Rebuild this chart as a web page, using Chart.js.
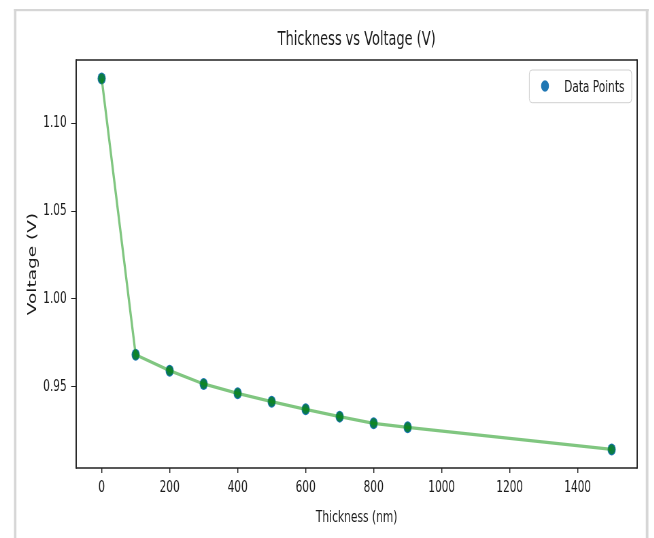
<!DOCTYPE html>
<html><head><meta charset="utf-8">
<script src="https://cdn.jsdelivr.net/npm/chart.js@4.4.1/dist/chart.umd.min.js"></script>
<style>
html,body{margin:0;padding:0;background:#fff;overflow:hidden;}
#wrap{width:654px;height:538px;overflow:hidden;position:relative;background:#fff;}
#c{position:absolute;left:0;top:0;transform:scaleX(0.68);transform-origin:0 0;}
</style></head><body>
<div id="wrap"><canvas id="c" width="962" height="538"></canvas></div>
<script>
// ---- data ----
const thickness = [0, 100, 200, 300, 400, 500, 600, 700, 800, 900, 1500];
const voltage = [1.1255, 0.9681, 0.9591, 0.9515, 0.9462, 0.9414, 0.9371, 0.9329, 0.9291, 0.9268, 0.9142];
const xTicks = [0, 200, 400, 600, 800, 1000, 1200, 1400];
const yTicks = [0.95, 1.00, 1.05, 1.10];
const titleText = 'Thickness vs Voltage (V)';
const xLabel = 'Thickness (nm)';
const yLabel = 'Voltage (V)';
const seriesLabel = 'Data Points';

// ---- layout (canvas is drawn wide and squeezed horizontally like the reference) ----
const SX = 0.68;
const W = 962, H = 538;
const FONT = "'DejaVu Sans', sans-serif";
const TXT = '#1a1a1a';

const pts = thickness.map((x, i) => ({x: x, y: voltage[i]}));
const xmin = Math.min(...thickness), xmax = Math.max(...thickness);
const ymin = Math.min(...voltage), ymax = Math.max(...voltage);
const xm = (xmax - xmin) * 0.05, ym = (ymax - ymin) * 0.05;

const decor = {
  id: 'decor',
  beforeDraw(chart) {
    const ctx = chart.ctx;
    ctx.save();
    ctx.fillStyle = '#fff';
    ctx.fillRect(0, 0, W, H);
    ctx.fillStyle = '#d6d6d6';
    ctx.fillRect(14 / SX, 9, 954 - 14 / SX, 2.2);
    ctx.fillRect(14 / SX, 9, 2.4 / SX, H);
    ctx.fillRect(645.8 / SX, 9, 2.6 / SX, H);
    ctx.restore();
  },
  afterDraw(chart) {
    const ctx = chart.ctx;
    const a = chart.chartArea;
    ctx.save();
    // axes box
    ctx.strokeStyle = '#222';
    ctx.lineWidth = 1.3;
    ctx.beginPath();
    ctx.moveTo(a.left, a.top); ctx.lineTo(a.right, a.top);
    ctx.moveTo(a.left, a.bottom); ctx.lineTo(a.right, a.bottom);
    ctx.stroke();
    ctx.lineWidth = 1.3 / SX;
    ctx.beginPath();
    ctx.moveTo(a.left, a.top - 0.65); ctx.lineTo(a.left, a.bottom + 0.65);
    ctx.moveTo(a.right, a.top - 0.65); ctx.lineTo(a.right, a.bottom + 0.65);
    ctx.stroke();
    // title
    ctx.fillStyle = TXT;
    ctx.font = '19px ' + FONT;
    ctx.textAlign = 'center';
    ctx.textBaseline = 'alphabetic';
    ctx.fillText(titleText, (a.left + a.right) / 2, 45);
    // legend
    const lx0 = 529.3 / SX, lx1 = 631.7 / SX, ly0 = 70, ly1 = 102.7;
    ctx.fillStyle = 'rgba(255,255,255,0.8)';
    ctx.strokeStyle = '#d0d0d0';
    ctx.lineWidth = 1;
    ctx.beginPath();
    if (ctx.roundRect) ctx.roundRect(lx0, ly0, lx1 - lx0, ly1 - ly0, 4); else ctx.rect(lx0, ly0, lx1 - lx0, ly1 - ly0);
    ctx.fill(); ctx.stroke();
    ctx.fillStyle = '#1f77b4';
    ctx.beginPath();
    ctx.arc(545 / SX, 86, 5.8, 0, Math.PI * 2);
    ctx.fill();
    ctx.fillStyle = TXT;
    ctx.font = '15.5px ' + FONT;
    ctx.textAlign = 'left';
    ctx.fillText(chart.data.datasets[0].label, 564.3 / SX, 91.5);
    ctx.restore();
  }
};

new Chart(document.getElementById('c'), {
  type: 'scatter',
  data: {
    datasets: [
      {
        label: seriesLabel,
        data: pts,
        showLine: false,
        pointRadius: 6,
        pointHoverRadius: 6,
        pointBackgroundColor: '#1f77b4',
        pointBorderWidth: 0,
        order: 2
      },
      {
        label: '_line',
        data: pts,
        showLine: true,
        borderColor: 'rgba(44,160,44,0.6)',
        borderWidth: 3.3,
        pointRadius: 5,
        pointHoverRadius: 5,
        pointBackgroundColor: 'rgba(0,128,0,0.62)',
        pointBorderWidth: 0,
        tension: 0,
        order: 1
      }
    ]
  },
  options: {
    responsive: false,
    animation: false,
    devicePixelRatio: 1,
    events: [],
    layout: {padding: {left: 0, right: W - Math.round(637 / SX), top: 60, bottom: 0}},
    plugins: {legend: {display: false}, title: {display: false}, tooltip: {enabled: false}},
    scales: {
      x: {
        type: 'linear',
        min: xmin - xm,
        max: xmax + xm,
        afterFit(s) { s.height = H - 468; },
        afterBuildTicks(s) { s.ticks = xTicks.map(v => ({value: v})); },
        border: {display: false},
        grid: {display: true, drawOnChartArea: false, drawTicks: true, tickLength: 5, color: '#222', lineWidth: 1.4},
        ticks: {autoSkip: false, maxRotation: 0, padding: 6, color: TXT, font: {family: FONT, size: 15.5},
          callback: v => String(v)},
        title: {display: true, text: xLabel, color: TXT, font: {family: FONT, size: 15.7}, padding: {top: 0, bottom: 11}}
      },
      y: {
        type: 'linear',
        min: ymin - ym,
        max: ymax + ym,
        afterFit(s) { s.width = Math.round(76 / SX); },
        afterBuildTicks(s) { s.ticks = yTicks.map(v => ({value: v})); },
        border: {display: false},
        grid: {display: true, drawOnChartArea: false, drawTicks: true, tickLength: 5 / SX, color: '#222', lineWidth: 1},
        ticks: {autoSkip: false, padding: 6.6, color: TXT, font: {family: FONT, size: 15.5},
          callback: v => Number(v).toFixed(2)},
        title: {display: true, text: yLabel, color: TXT, font: {family: FONT, size: 18.5}, padding: {top: 36.7, bottom: 0}}
      }
    }
  },
  plugins: [decor]
});
</script>
</body></html>
